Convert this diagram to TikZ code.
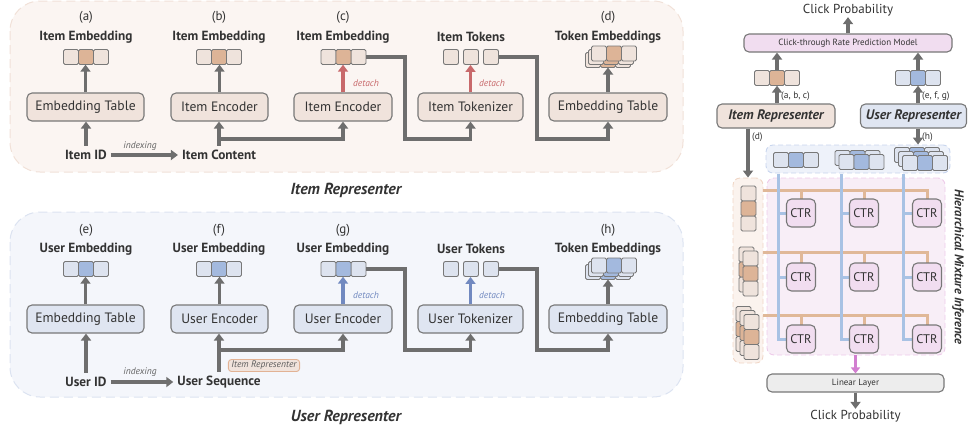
\documentclass[tikz,border=0pt]{standalone}
\usepackage{fontspec}
\setmainfont{PT Sans}
\usetikzlibrary{arrows.meta}
\newcommand\fsz[1]{\fontsize{#1}{#1}\selectfont}
\definecolor{agray}{HTML}{6E6E6E}
\definecolor{bord}{HTML}{787878}
\definecolor{txt}{HTML}{333333}
\definecolor{ipanel}{HTML}{FBF5F2}
\definecolor{ipanelb}{HTML}{F1E1D8}
\definecolor{ibox}{HTML}{F0E3DC}
\definecolor{icell}{HTML}{EFE3DC}
\definecolor{imid}{HTML}{DDB497}
\definecolor{upanel}{HTML}{F4F6FB}
\definecolor{upanelb}{HTML}{DCE3F1}
\definecolor{ubox}{HTML}{DFE5F1}
\definecolor{ucell}{HTML}{DDE3EF}
\definecolor{umid}{HTML}{A3B9DE}
\definecolor{detr}{HTML}{C8696B}
\definecolor{detb}{HTML}{7189C0}
\definecolor{ctrfill}{HTML}{F1DDF0}
\definecolor{oline}{HTML}{E0B898}
\definecolor{bline}{HTML}{A8C2E4}
\definecolor{pgrp}{HTML}{F8EEF7}
\definecolor{pgrpb}{HTML}{EECBEA}
\definecolor{ogrp}{HTML}{FBF3EE}
\definecolor{ogrpb}{HTML}{F0D6C6}
\definecolor{bgrp}{HTML}{EEF2FA}
\definecolor{bgrpb}{HTML}{C8D5EE}
\definecolor{parr}{HTML}{D27FD0}
\definecolor{linfill}{HTML}{EDEDED}
\definecolor{tagb}{HTML}{E2B294}
\tikzset{
 box/.style={draw=bord, line width=1.1pt, rounded corners=5pt, minimum height=28pt, inner sep=0pt, font=\fsz{13.6}, text=txt},
 ttl/.style={font=\bfseries\fsz{13.3}, inner sep=1pt, text=txt},
 lbl/.style={font=\fsz{13}, inner sep=1pt, text=txt},
 smalli/.style={font=\itshape\fsz{9.5}, inner sep=1pt},
 arr/.style={draw=agray, line width=3.5pt, -{Triangle[width=10pt,length=7pt]}},
 cellst/.style={draw=bord, line width=0.9pt, rounded corners=1.5pt},
 tok/.style={draw=bord, line width=0.9pt, rounded corners=2pt, minimum size=15pt, inner sep=0pt},
 panel/.style={dash pattern=on 9pt off 5pt, line width=1pt, rounded corners=30pt},
 grp/.style={dash pattern=on 5pt off 3pt, line width=0.9pt, rounded corners=7pt},
 ctr/.style={draw=bord, fill=ctrfill, line width=1.1pt, rounded corners=5pt, minimum width=29pt, minimum height=28pt, inner sep=0pt, font=\fsz{12.5}, text=txt},
 ol/.style={draw=oline, line width=3pt},
 bl/.style={draw=bline, line width=3pt},
}
% horizontal vector cells centred at (x,y)
\newcommand\hcells[4]{%
 \draw[cellst, fill=#3] ([shift={(-22.5pt,-7.5pt)}]#1,#2) rectangle +(15pt,15pt);
 \draw[cellst, fill=#3] ([shift={(7.5pt,-7.5pt)}]#1,#2) rectangle +(15pt,15pt);
 \draw[cellst, fill=#4] ([shift={(-7.5pt,-7.5pt)}]#1,#2) rectangle +(15pt,15pt);}
\newcommand\hvec[5]{%
 \node[inner sep=0pt, minimum width=45pt, minimum height=15pt] (#1) at (#2,#3) {};
 \hcells{#2}{#3}{#4}{#5}}
% vertical vector cells
\newcommand\vcells[4]{%
 \draw[cellst, fill=#3] ([shift={(-7.5pt,7.5pt)}]#1,#2) rectangle +(15pt,15pt);
 \draw[cellst, fill=#3] ([shift={(-7.5pt,-22.5pt)}]#1,#2) rectangle +(15pt,15pt);
 \draw[cellst, fill=#4] ([shift={(-7.5pt,-7.5pt)}]#1,#2) rectangle +(15pt,15pt);}
\newcommand\vvec[5]{%
 \node[inner sep=0pt, minimum width=15pt, minimum height=45pt] (#1) at (#2,#3) {};
 \vcells{#2}{#3}{#4}{#5}}
\begin{document}
\begin{tikzpicture}[x=1pt,y=-1pt, line join=miter]
\useasboundingbox (0,0) rectangle (971,432);
% ---------------- panels
\draw[panel, draw=ipanelb, fill=ipanel] (10,1) rectangle (683,172);
\draw[panel, draw=upanelb, fill=upanel] (10,212) rectangle (683,397);
\node[font=\bfseries\itshape\fsz{16}, text=txt] (ipt) at (346,190) {Item Representer};
\node[font=\bfseries\itshape\fsz{16}, text=txt] (upt) at (346,417) {User Representer};

% ================= ITEM PANEL
\node[lbl] (la) at (86,17) {(a)};
\node[lbl] (lb) at (219,17) {(b)};
\node[lbl] (lc) at (343,17) {(c)};
\node[lbl] (ld) at (608,17) {(d)};
\node[ttl] (ta) at (86,37) {Item Embedding};
\node[ttl] (tb) at (219,37) {Item Embedding};
\node[ttl] (tc) at (343,37) {Item Embedding};
\node[ttl] (tt) at (471,37) {Item Tokens};
\node[ttl] (td) at (608,37) {Token Embeddings};
\hvec{va}{86}{57}{icell}{imid}
\hvec{vb}{219}{57}{icell}{imid}
\hvec{vc}{343.5}{57}{icell}{imid}
\node[tok, fill=icell] (tk1) at (451,57) {};
\node[tok, fill=icell] (tk2) at (471,57) {};
\node[tok, fill=icell] (tk3) at (491,57) {};
\hcells{608}{60}{icell}{imid}
\hcells{611}{57}{icell}{imid}
\hvec{vd}{614}{53.5}{icell}{imid}
\coordinate (vdb) at (608,67.5);
\node[box, fill=ibox, minimum width=117pt] (ba) at (85.5,107) {Embedding Table};
\node[box, fill=ibox, minimum width=97pt] (bb) at (219.5,107) {Item Encoder};
\node[box, fill=ibox, minimum width=98pt] (bc) at (343,107) {Item Encoder};
\node[box, fill=ibox, minimum width=105pt] (bt) at (470.5,107) {Item Tokenizer};
\node[box, fill=ibox, minimum width=118pt] (bd) at (608,107) {Embedding Table};
\node[ttl, inner sep=4pt] (iid) at (86,155) {Item ID};
\node[ttl, inner sep=4pt] (icont) at (219,155) {Item Content};
\node[smalli, text=agray!90!black] (idx1) at (140,146) {indexing};
\node[smalli, text=detr] (dt1) at (366,83) {detach};
\node[smalli, text=detr] (dt2) at (492,83) {detach};
\draw[arr] (ba.north) -- (ba.north |- va.south);
\draw[arr] (iid.north) -- (iid.north |- ba.south);
\draw[arr] (iid.east) -- (icont.west);
\draw[arr] (bb.north) -- (bb.north |- vb.south);
\draw[arr] (icont.north) -- (icont.north |- bb.south);
\coordinate (j1) at (219,139);
\draw[arr] (j1) -| (bc.south);
\draw[arr, draw=detr] (bc.north) -- (bc.north |- vc.south);
\coordinate (j2) at (405,139);
\draw[arr] (vc.east) -| (j2) -| (bt.south);
\draw[arr, draw=detr] (bt.north) -- (bt.north |- tk2.south);
\coordinate (j3) at (537,139);
\draw[arr] (tk3.east) -| (j3) -| (bd.south);
\draw[arr] (bd.north) -- (vdb);

% ================= USER PANEL
\node[lbl] (le) at (86,230) {(e)};
\node[lbl] (lf) at (219,230) {(f)};
\node[lbl] (lg) at (343,230) {(g)};
\node[lbl] (lh) at (608,230) {(h)};
\node[ttl] (te) at (86,249) {User Embedding};
\node[ttl] (tf) at (219,249) {User Embedding};
\node[ttl] (tg) at (343,249) {User Embedding};
\node[ttl] (tu) at (471,249) {User Tokens};
\node[ttl] (th) at (608,249) {Token Embeddings};
\hvec{ve}{86}{269}{ucell}{umid}
\hvec{vf}{219}{269}{ucell}{umid}
\hvec{vg}{343.5}{269}{ucell}{umid}
\node[tok, fill=ucell] (uk1) at (451,269) {};
\node[tok, fill=ucell] (uk2) at (471,269) {};
\node[tok, fill=ucell] (uk3) at (491,269) {};
\hcells{608}{272}{ucell}{umid}
\hcells{611}{269}{ucell}{umid}
\hvec{vh}{614}{265.5}{ucell}{umid}
\coordinate (vhb) at (608,279.5);
\node[box, fill=ubox, minimum width=117pt] (be) at (85.5,319) {Embedding Table};
\node[box, fill=ubox, minimum width=97pt] (bf) at (219.5,319) {User Encoder};
\node[box, fill=ubox, minimum width=98pt] (bg) at (343,319) {User Encoder};
\node[box, fill=ubox, minimum width=105pt] (bu) at (470.5,319) {User Tokenizer};
\node[box, fill=ubox, minimum width=118pt] (bh) at (608,319) {Embedding Table};
\node[ttl, inner sep=4pt] (uid) at (86,382) {User ID};
\node[ttl, inner sep=4pt] (useq) at (219,382) {User Sequence};
\node[smalli, text=agray!90!black] (idx2) at (140,372) {indexing};
\node[smalli, text=detb] (dt3) at (366,295) {detach};
\node[smalli, text=detb] (dt4) at (492,295) {detach};
\node[draw=tagb, fill=ibox, line width=0.9pt, rounded corners=3pt, font=\itshape\fsz{9.5}, text=txt!80, inner xsep=3pt, inner ysep=1pt, minimum height=12pt] (itag) at (264,365.5) {Item Representer};
\draw[arr] (be.north) -- (be.north |- ve.south);
\draw[arr] (uid.north) -- (uid.north |- be.south);
\draw[arr] (uid.east) -- (useq.west);
\draw[arr] (bf.north) -- (bf.north |- vf.south);
\draw[arr] (useq.north) -- (useq.north |- bf.south);
\coordinate (k1) at (219,350);
\draw[arr] (k1) -| (bg.south);
\draw[arr, draw=detb] (bg.north) -- (bg.north |- vg.south);
\coordinate (k2) at (405,350);
\draw[arr] (vg.east) -| (k2) -| (bu.south);
\draw[arr, draw=detb] (bu.north) -- (bu.north |- uk2.south);
\coordinate (k3) at (537,350);
\draw[arr] (uk3.east) -| (k3) -| (bh.south);
\draw[arr] (bh.north) -- (vhb);

% ================= RIGHT PANEL
\node[lbl] (cp1) at (848,10) {Click Probability};
\node[draw=bord, fill=ctrfill, line width=1.1pt, rounded corners=5pt, minimum width=208pt, minimum height=18pt, inner sep=0pt, font=\fsz{9}, text=txt] (ctrm) at (848,43) {Click-through Rate Prediction Model};
\hvec{riv}{777}{78}{icell}{imid}
\hvec{ruv}{918}{78}{ucell}{umid}
\node[box, fill=ibox, minimum width=118pt, minimum height=24pt, font=\bfseries\itshape\fsz{13.8}] (irep) at (776,116) {Item Representer};
\node[box, fill=ubox, minimum width=106pt, minimum height=24pt, font=\bfseries\itshape\fsz{13.8}] (urep) at (913.5,116) {User Representer};
\node[font=\fsz{9.5}, text=txt, anchor=west, inner sep=0pt] (labc) at (781,96) {(a, b, c)};
\node[font=\fsz{9.5}, text=txt, anchor=west, inner sep=0pt] (lefg) at (922,96) {(e, f, g)};
\node[font=\fsz{9.5}, text=txt, anchor=west, inner sep=0pt] (ldd) at (752,137) {(d)};
\node[font=\fsz{9.5}, text=txt, anchor=west, inner sep=0pt] (lhh) at (922,137) {(h)};
\draw[arr] (ctrm.north) -- (cp1.south);
\draw[arr] (riv.north) -- (riv.north |- ctrm.south);
\draw[arr] (ruv.north) -- (ruv.north |- ctrm.south);
\draw[arr] (riv.south |- irep.north) -- (riv.south);
\draw[arr] (ruv.south |- urep.north) -- (ruv.south);

% groups
\node[grp, draw=bgrpb, fill=bgrp, minimum width=184pt, minimum height=28pt, inner sep=0pt] (bgp) at (858,159) {};
\node[grp, draw=ogrpb, fill=ogrp, minimum width=30pt, minimum height=185pt, inner sep=0pt] (ogp) at (748,270.5) {};
\node[grp, draw=pgrpb, fill=pgrp, minimum width=178pt, minimum height=177pt, inner sep=0pt] (pgp) at (856,266.5) {};
\draw[arr] (irep.south -| ogp.north) -- (ogp.north);
\draw[arr] (urep.south -| ruv.south) -- (ruv.south |- bgp.north);

% blue group vectors
\hvec{bv1}{796}{160}{ucell}{umid}
\hcells{857.5}{158}{ucell}{umid}
\hvec{bv2}{861.5}{162}{ucell}{umid}
\hcells{917}{155}{ucell}{umid}
\hcells{921}{159}{ucell}{umid}
\hvec{bv3}{925}{163}{ucell}{umid}
% orange group vectors
\vvec{ov1}{748.5}{208.5}{icell}{imid}
\vcells{746.5}{269.5}{icell}{imid}
\vvec{ov2}{750.5}{273.5}{icell}{imid}
\vcells{743.5}{329}{icell}{imid}
\vcells{747.5}{333}{icell}{imid}
\vvec{ov3}{751.5}{337}{icell}{imid}

% CTR grid
\coordinate (o1) at (763,190);
\coordinate (o2) at (763,252);
\coordinate (o3) at (763,315);
\coordinate (b1) at (778,174);
\coordinate (b2) at (841,174);
\coordinate (b3) at (903,174);
\coordinate (x1) at (801,0);
\coordinate (x2) at (864,0);
\coordinate (x3) at (927,0);
\coordinate (y1) at (0,213);
\coordinate (y2) at (0,277);
\coordinate (y3) at (0,339);
\draw[ol] (o1) -| (x3 |- y1);
\draw[ol] (o1 -| x1) -- (x1 |- y1);
\draw[ol] (o1 -| x2) -- (x2 |- y1);
\draw[ol] (o2) -| (x3 |- y2);
\draw[ol] (o2 -| x1) -- (x1 |- y2);
\draw[ol] (o2 -| x2) -- (x2 |- y2);
\draw[ol] (o3) -| (x3 |- y3);
\draw[ol] (o3 -| x1) -- (x1 |- y3);
\draw[ol] (o3 -| x2) -- (x2 |- y3);
\draw[bl] (b1) |- (x1 |- y3);
\draw[bl] (b1 |- y1) -- (x1 |- y1);
\draw[bl] (b1 |- y2) -- (x1 |- y2);
\draw[bl] (b2) |- (x2 |- y3);
\draw[bl] (b2 |- y1) -- (x2 |- y1);
\draw[bl] (b2 |- y2) -- (x2 |- y2);
\draw[bl] (b3) |- (x3 |- y3);
\draw[bl] (b3 |- y1) -- (x3 |- y1);
\draw[bl] (b3 |- y2) -- (x3 |- y2);
\node[ctr] (c11) at (x1 |- y1) {CTR};
\node[ctr] (c12) at (x2 |- y1) {CTR};
\node[ctr] (c13) at (x3 |- y1) {CTR};
\node[ctr] (c21) at (x1 |- y2) {CTR};
\node[ctr] (c22) at (x2 |- y2) {CTR};
\node[ctr] (c23) at (x3 |- y2) {CTR};
\node[ctr] (c31) at (x1 |- y3) {CTR};
\node[ctr] (c32) at (x2 |- y3) {CTR};
\node[ctr] (c33) at (x3 |- y3) {CTR};

\node[font=\bfseries\itshape\fsz{12.6}, text=txt, rotate=-90] (hmi) at (958,267) {Hierarchical Mixture Inference};

\node[draw=bord, fill=linfill, line width=1.1pt, rounded corners=5pt, minimum width=177pt, minimum height=18pt, inner sep=0pt, font=\fsz{9}, text=txt] (lin) at (855.5,383) {Linear Layer};
\node[lbl] (cp2) at (855.5,416) {Click Probability};
\draw[arr, draw=parr, line width=3pt, -{Triangle[width=9pt,length=6pt]}] (pgp.south -| lin.north) -- (lin.north);
\draw[arr] (lin.south) -- (cp2.north);
\end{tikzpicture}
\end{document}
